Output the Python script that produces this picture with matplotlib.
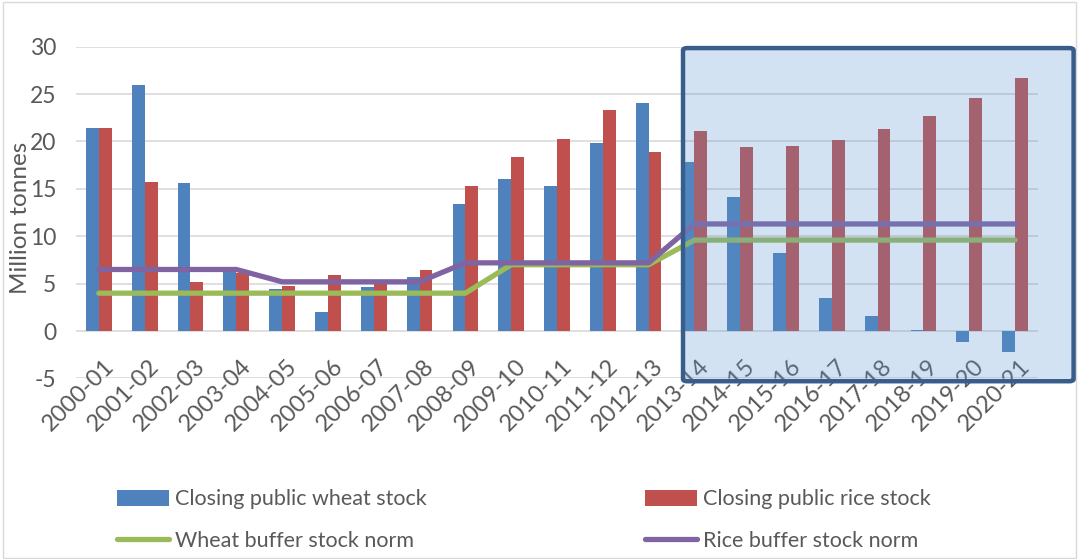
import matplotlib
matplotlib.use("Agg")
import matplotlib.pyplot as plt
import numpy as np
from matplotlib.patches import FancyBboxPatch, Rectangle

plt.rcParams["font.family"] = ["Lato", "DejaVu Sans"]
plt.rcParams["axes.unicode_minus"] = False

years = ["2000-01", "2001-02", "2002-03", "2003-04", "2004-05", "2005-06", "2006-07",
         "2007-08", "2008-09", "2009-10", "2010-11", "2011-12", "2012-13", "2013-14",
         "2014-15", "2015-16", "2016-17", "2017-18", "2018-19", "2019-20", "2020-21"]
wheat_stock = [21.4, 26.0, 15.6, 6.8, 4.4, 2.0, 4.6, 5.7, 13.4, 16.0, 15.3, 19.8, 24.1,
               17.8, 14.1, 8.2, 3.5, 1.6, 0.1, -1.2, -2.2]
rice_stock = [21.4, 15.7, 5.2, 6.1, 4.8, 5.9, 5.1, 6.4, 15.3, 18.4, 20.3, 23.3, 18.9,
              21.1, 19.4, 19.5, 20.2, 21.3, 22.7, 24.6, 26.7]
wheat_norm = [4.0] * 9 + [7.0] * 4 + [9.6] * 8
rice_norm = [6.5] * 4 + [5.2] * 4 + [7.2] * 5 + [11.3] * 8

C_WHEAT = "#4F81BD"
C_RICE = "#C0504D"
C_WNORM = "#9BBB59"
C_RNORM = "#8064A2"
GREY = "#595959"

fig = plt.figure(figsize=(10.79, 5.59), dpi=100)
ax = fig.add_axes([0.0704, 0.3229, 0.8916, 0.5936])

x = np.arange(len(years))
w = 0.28
ax.bar(x - w / 2, wheat_stock, w, color=C_WHEAT, zorder=2, label="Closing public wheat stock")
ax.bar(x + w / 2, rice_stock, w, color=C_RICE, zorder=2, label="Closing public rice stock")
ax.plot(x, wheat_norm, color=C_WNORM, lw=3.8, zorder=3, solid_capstyle="round",
        label="Wheat buffer stock norm")
ax.plot(x, rice_norm, color=C_RNORM, lw=3.8, zorder=3, solid_capstyle="round",
        label="Rice buffer stock norm")

ax.set_xlim(-0.5, len(years) - 0.5)
ax.set_ylim(-5, 30)
ax.set_yticks(range(-5, 31, 5))
ax.yaxis.grid(True, color="#D9D9D9", lw=1.2, zorder=0)
ax.set_axisbelow(True)
for s in ax.spines.values():
    s.set_visible(False)
ax.tick_params(axis="y", length=0, labelsize=16.5, labelcolor=GREY, pad=14)
ax.set_xticks([])

# category labels sit just under the zero line, as in Excel
for i, lab in enumerate(years):
    ax.text(i + 0.25, -3.4, lab, rotation=45, ha="right", va="center",
            rotation_mode="anchor", fontsize=17, color=GREY, clip_on=False)

fig.text(0.019, 0.61, "Million tonnes", rotation=90, ha="center", va="center",
         fontsize=17.5, color=GREY)

# highlighted projection period
fig.patches.append(FancyBboxPatch((0.633, 0.318), 0.362, 0.596,
                                  boxstyle="round,pad=0,rounding_size=0.004",
                                  transform=fig.transFigure, facecolor=(0.36, 0.58, 0.81, 0.27),
                                  edgecolor="#385D8A", lw=3.2, zorder=5))

# chart border
fig.patches.append(Rectangle((0.003, 0.002), 0.994, 0.995, transform=fig.transFigure,
                             fill=False, edgecolor="#D9D9D9", lw=1))

h, l = ax.get_legend_handles_labels()
order = [2, 0, 3, 1]
fig.legend([h[i] for i in order], [l[i] for i in order], ncol=2,
           loc="lower left", bbox_to_anchor=(0.0904, -0.02), frameon=False,
           fontsize=15.5, labelcolor=GREY, handlelength=2.4, handleheight=0.8,
           columnspacing=10.15, labelspacing=1.0, handletextpad=0.3)

fig.savefig("out.png", dpi=100)
